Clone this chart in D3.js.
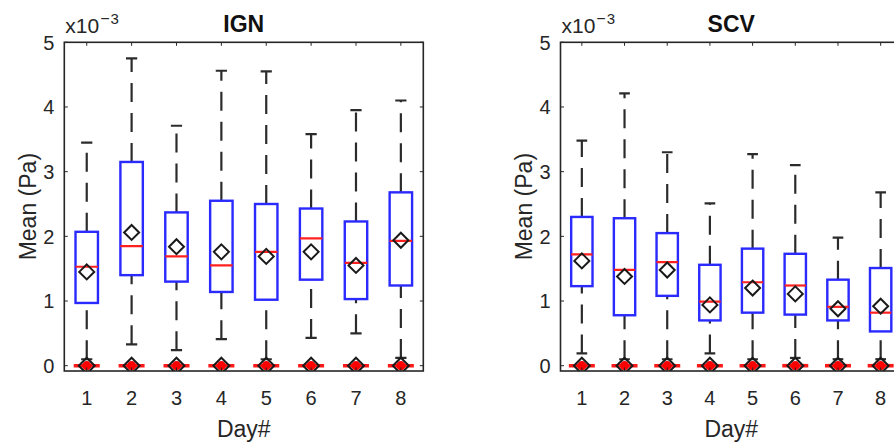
<!DOCTYPE html>
<html>
<head>
<meta charset="utf-8">
<script src="https://cdn.jsdelivr.net/npm/d3@7"></script>
<style>
  html, body { margin: 0; padding: 0; background: #fff; }
  svg { display: block; font-family: "Liberation Sans", Arial, sans-serif; }
</style>
</head>
<body>
<svg id="chart" width="894" height="444"></svg>
<script>
// Daily distributions of the mean shear stress (units of 1e-3 Pa)
const days = [1, 2, 3, 4, 5, 6, 7, 8];
const yTicks = [0, 1, 2, 3, 4, 5];

// IGN group
const ignLowWhisker  = [0.10, 0.33, 0.24, 0.41, 0.10, 0.43, 0.50, 0.12];
const ignQ1          = [0.97, 1.40, 1.30, 1.14, 1.02, 1.33, 1.03, 1.24];
const ignMedian      = [1.53, 1.85, 1.69, 1.55, 1.76, 1.97, 1.59, 1.93];
const ignQ3          = [2.07, 3.15, 2.37, 2.55, 2.50, 2.43, 2.23, 2.68];
const ignHighWhisker = [3.45, 4.75, 3.71, 4.56, 4.55, 3.58, 3.95, 4.10];
const ignMean        = [1.45, 2.06, 1.84, 1.76, 1.69, 1.76, 1.55, 1.94];

// SCV group
const scvLowWhisker  = [0.19, 0.10, 0.10, 0.19, 0.10, 0.12, 0.10, 0.10];
const scvQ1          = [1.23, 0.78, 1.08, 0.70, 0.82, 0.79, 0.70, 0.53];
const scvMedian      = [1.72, 1.48, 1.60, 0.99, 1.29, 1.24, 0.91, 0.82];
const scvQ3          = [2.30, 2.28, 2.05, 1.56, 1.81, 1.73, 1.33, 1.51];
const scvHighWhisker = [3.48, 4.21, 3.30, 2.51, 3.27, 3.10, 1.98, 2.68];
const scvMean        = [1.62, 1.38, 1.48, 0.94, 1.20, 1.11, 0.88, 0.92];

// Zero-valued records: outliers and their mean, per day
const ignZeroOutlier = [0, 0, 0, 0, 0, 0, 0, 0];
const scvZeroOutlier = [0, 0, 0, 0, 0, 0, 0, 0];

const svg = d3.select("#chart");
const ink = "#262626";

function diamond(g, cx, cy, r) {
  g.append("path")
    .attr("d", `M${cx},${cy - r}L${cx + r},${cy}L${cx},${cy + r}L${cx - r},${cy}Z`)
    .attr("fill", "none").attr("stroke", "#1a1a1a").attr("stroke-width", 2);
}

function panel(opt) {
  const x = d3.scaleLinear().domain([0.5, 8.5]).range([opt.left, opt.right]);
  const y = d3.scaleLinear().domain([-0.082, 5]).range([371, 42.3]);
  const g = svg.append("g");

  // clip the plotting area to the axes box
  const clipId = "clip-" + opt.name;
  svg.append("clipPath").attr("id", clipId)
    .append("rect").attr("x", opt.left).attr("y", 42.3)
    .attr("width", opt.right - opt.left).attr("height", 371 - 42.3);
  const plot = g.append("g").attr("clip-path", `url(#${clipId})`);

  const boxHalf = x(1.25) - x(1);
  const capHalf = x(1.125) - x(1);
  const wColor = "#2b2b2b";

  days.forEach((d, i) => {
    const cx = x(d);
    // upper whisker: from box top to upper adjacent value
    plot.append("line")
      .attr("x1", cx).attr("x2", cx)
      .attr("y1", y(opt.q3[i])).attr("y2", y(opt.hi[i]))
      .attr("stroke", wColor).attr("stroke-width", 2.2)
      .attr("stroke-dasharray", "19,11");
    plot.append("line")
      .attr("x1", cx - capHalf).attr("x2", cx + capHalf)
      .attr("y1", y(opt.hi[i])).attr("y2", y(opt.hi[i]))
      .attr("stroke", wColor).attr("stroke-width", 2.2);
    // lower whisker: from lower adjacent value up to box bottom
    plot.append("line")
      .attr("x1", cx).attr("x2", cx)
      .attr("y1", y(opt.lo[i])).attr("y2", y(opt.q1[i]))
      .attr("stroke", wColor).attr("stroke-width", 2.2)
      .attr("stroke-dasharray", "19,11");
    plot.append("line")
      .attr("x1", cx - capHalf).attr("x2", cx + capHalf)
      .attr("y1", y(opt.lo[i])).attr("y2", y(opt.lo[i]))
      .attr("stroke", wColor).attr("stroke-width", 2.2);
    // box
    plot.append("rect")
      .attr("x", cx - boxHalf).attr("width", 2 * boxHalf)
      .attr("y", y(opt.q3[i])).attr("height", y(opt.q1[i]) - y(opt.q3[i]))
      .attr("fill", "none").attr("stroke", "#2a2aff").attr("stroke-width", 2.4);
    // median
    plot.append("line")
      .attr("x1", cx - boxHalf).attr("x2", cx + boxHalf)
      .attr("y1", y(opt.med[i])).attr("y2", y(opt.med[i]))
      .attr("stroke", "#ff2020").attr("stroke-width", 2.2);
    // mean
    diamond(plot, cx, y(opt.mean[i]), 7.5);

    // zero-valued records
    const y0 = y(opt.zero[i]);
    plot.append("line")
      .attr("x1", cx - 13).attr("x2", cx + 13)
      .attr("y1", y0).attr("y2", y0)
      .attr("stroke", "#ff1a1a").attr("stroke-width", 3.6);
    plot.append("circle")
      .attr("cx", cx).attr("cy", y0).attr("r", 4.6)
      .attr("fill", "#f00");
    diamond(plot, cx, y0, 8);
  });

  // axes box
  g.append("rect")
    .attr("x", opt.left).attr("y", 42.3)
    .attr("width", opt.right - opt.left).attr("height", 371 - 42.3)
    .attr("fill", "none").attr("stroke", ink).attr("stroke-width", 1.6);

  // inward tick marks on all four sides
  const tl = 3.5;
  yTicks.forEach(t => {
    g.append("line").attr("x1", opt.left).attr("x2", opt.left + tl)
      .attr("y1", y(t)).attr("y2", y(t)).attr("stroke", ink).attr("stroke-width", 1);
    g.append("line").attr("x1", opt.right).attr("x2", opt.right - tl)
      .attr("y1", y(t)).attr("y2", y(t)).attr("stroke", ink).attr("stroke-width", 1);
  });
  days.forEach(d => {
    g.append("line").attr("x1", x(d)).attr("x2", x(d))
      .attr("y1", 371).attr("y2", 371 - tl).attr("stroke", ink).attr("stroke-width", 1);
    g.append("line").attr("x1", x(d)).attr("x2", x(d))
      .attr("y1", 42.3).attr("y2", 42.3 + tl).attr("stroke", ink).attr("stroke-width", 1);
  });

  // tick labels
  g.selectAll(".yt").data(yTicks).enter().append("text")
    .attr("x", opt.left - 10).attr("y", t => y(t)).attr("dy", "0.36em")
    .attr("text-anchor", "end").attr("font-size", 20).attr("fill", ink)
    .text(t => t);
  g.selectAll(".xt").data(days).enter().append("text")
    .attr("x", d => x(d)).attr("y", 405)
    .attr("text-anchor", "middle").attr("font-size", 20).attr("fill", ink)
    .text(d => d);

  // exponent label
  const ex = g.append("text").attr("x", opt.left + 1).attr("y", 33)
    .attr("font-size", 21).attr("fill", ink);
  ex.append("tspan").text("x10");
  ex.append("tspan").attr("font-size", 16).attr("dy", -9).attr("dx", 1).text("\u2212");
  ex.append("tspan").attr("font-size", 15).attr("dx", 1).text("3");

  // axis labels and title
  g.append("text")
    .attr("transform", `translate(${opt.left - 37},${(42.3 + 371) / 2}) rotate(-90)`)
    .attr("text-anchor", "middle").attr("dy", "0.36em")
    .attr("font-size", 23).attr("fill", ink).text("Mean (Pa)");
  g.append("text")
    .attr("x", (opt.left + opt.right) / 2).attr("y", 437)
    .attr("text-anchor", "middle").attr("font-size", 23).attr("fill", ink)
    .text("Day#");
  g.append("text")
    .attr("x", (opt.left + opt.right) / 2).attr("y", 32)
    .attr("text-anchor", "middle").attr("font-size", 23).attr("font-weight", "bold")
    .attr("fill", "#111").text(opt.title);
}

panel({
  name: "ign", title: "IGN", left: 64.3, right: 423.3,
  lo: ignLowWhisker, q1: ignQ1, med: ignMedian, q3: ignQ3, hi: ignHighWhisker,
  mean: ignMean, zero: ignZeroOutlier
});
panel({
  name: "scv", title: "SCV", left: 560.5, right: 902,
  lo: scvLowWhisker, q1: scvQ1, med: scvMedian, q3: scvQ3, hi: scvHighWhisker,
  mean: scvMean, zero: scvZeroOutlier
});
</script>
</body>
</html>
